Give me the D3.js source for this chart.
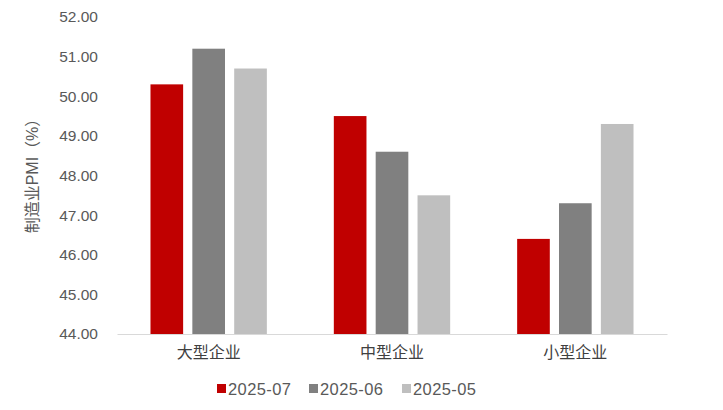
<!DOCTYPE html>
<html><head><meta charset="utf-8">
<script src="https://cdn.jsdelivr.net/npm/d3@7"></script>
<style>body{margin:0;background:#fff}svg{display:block}</style>
</head><body>
<script>
const categories = ["大型企业", "中型企业", "小型企业"];
const seriesNames = ["2025-07", "2025-06", "2025-05"];
const s202507 = [50.3, 49.5, 46.4];
const s202506 = [51.2, 48.6, 47.3];
const s202505 = [50.7, 47.5, 49.3];
const yTicks = [44, 45, 46, 47, 48, 49, 50, 51, 52];
const colors = ["#c00000", "#808080", "#bfbfbf"];
const seriesValues = [s202507, s202506, s202505];

const W = 723, H = 410;
const svg = d3.select("body").append("svg").attr("width", W).attr("height", H);
const font = "'Liberation Sans', Arial, 'Noto Sans CJK SC', sans-serif";

const x0 = d3.scaleBand().domain(categories).range([117, 667]).paddingInner(0).paddingOuter(0);
const x1 = d3.scaleBand().domain(seriesNames).range([0, x0.bandwidth()]).paddingInner(0.22).paddingOuter(0.8);
const y = d3.scaleLinear().domain([44, 52]).range([334, 17]);

// bars
categories.forEach((c, ci) => {
  seriesNames.forEach((s, si) => {
    const v = seriesValues[si][ci];
    svg.append("rect")
      .attr("x", x0(c) + x1(s))
      .attr("y", y(v))
      .attr("width", x1.bandwidth())
      .attr("height", y(44) - y(v))
      .attr("fill", colors[si]);
  });
});

// y axis labels
const yAxis = d3.axisLeft(y).tickValues(yTicks).tickFormat(d3.format(".2f")).tickSize(0).tickPadding(0);
const ga = svg.append("g").attr("transform", "translate(98,0)").call(yAxis);
ga.select(".domain").remove();
ga.selectAll("text").attr("font-family", font).attr("font-size", 15.5).attr("fill", "#595959");

// x axis line
const xAxis = d3.axisBottom(x0).tickSize(0).tickPadding(13);
const gx = svg.append("g").attr("transform", "translate(0,334)").call(xAxis);
gx.select(".domain").attr("stroke", "#d9d9d9").attr("stroke-width", 1);
gx.selectAll("text").attr("font-family", font).attr("font-size", 16).attr("fill", "#404040");

// y title
svg.append("text")
  .attr("transform", "translate(38,172) rotate(-90)")
  .attr("text-anchor", "middle")
  .attr("font-family", font).attr("font-size", 16).attr("fill", "#595959")
  .text("制造业PMI（%）");

// legend
const legendX = [217, 309, 402];
seriesNames.forEach((s, i) => {
  const g = svg.append("g").attr("transform", `translate(${legendX[i]},384)`);
  g.append("rect").attr("x", 0).attr("y", 0).attr("width", 9).attr("height", 9).attr("fill", colors[i]);
  g.append("text").attr("x", 11).attr("y", 10.5).attr("font-family", font).attr("font-size", 16.5)
    .attr("letter-spacing", 0.4)
    .attr("fill", "#595959").text(s);
});
</script>
</body></html>
